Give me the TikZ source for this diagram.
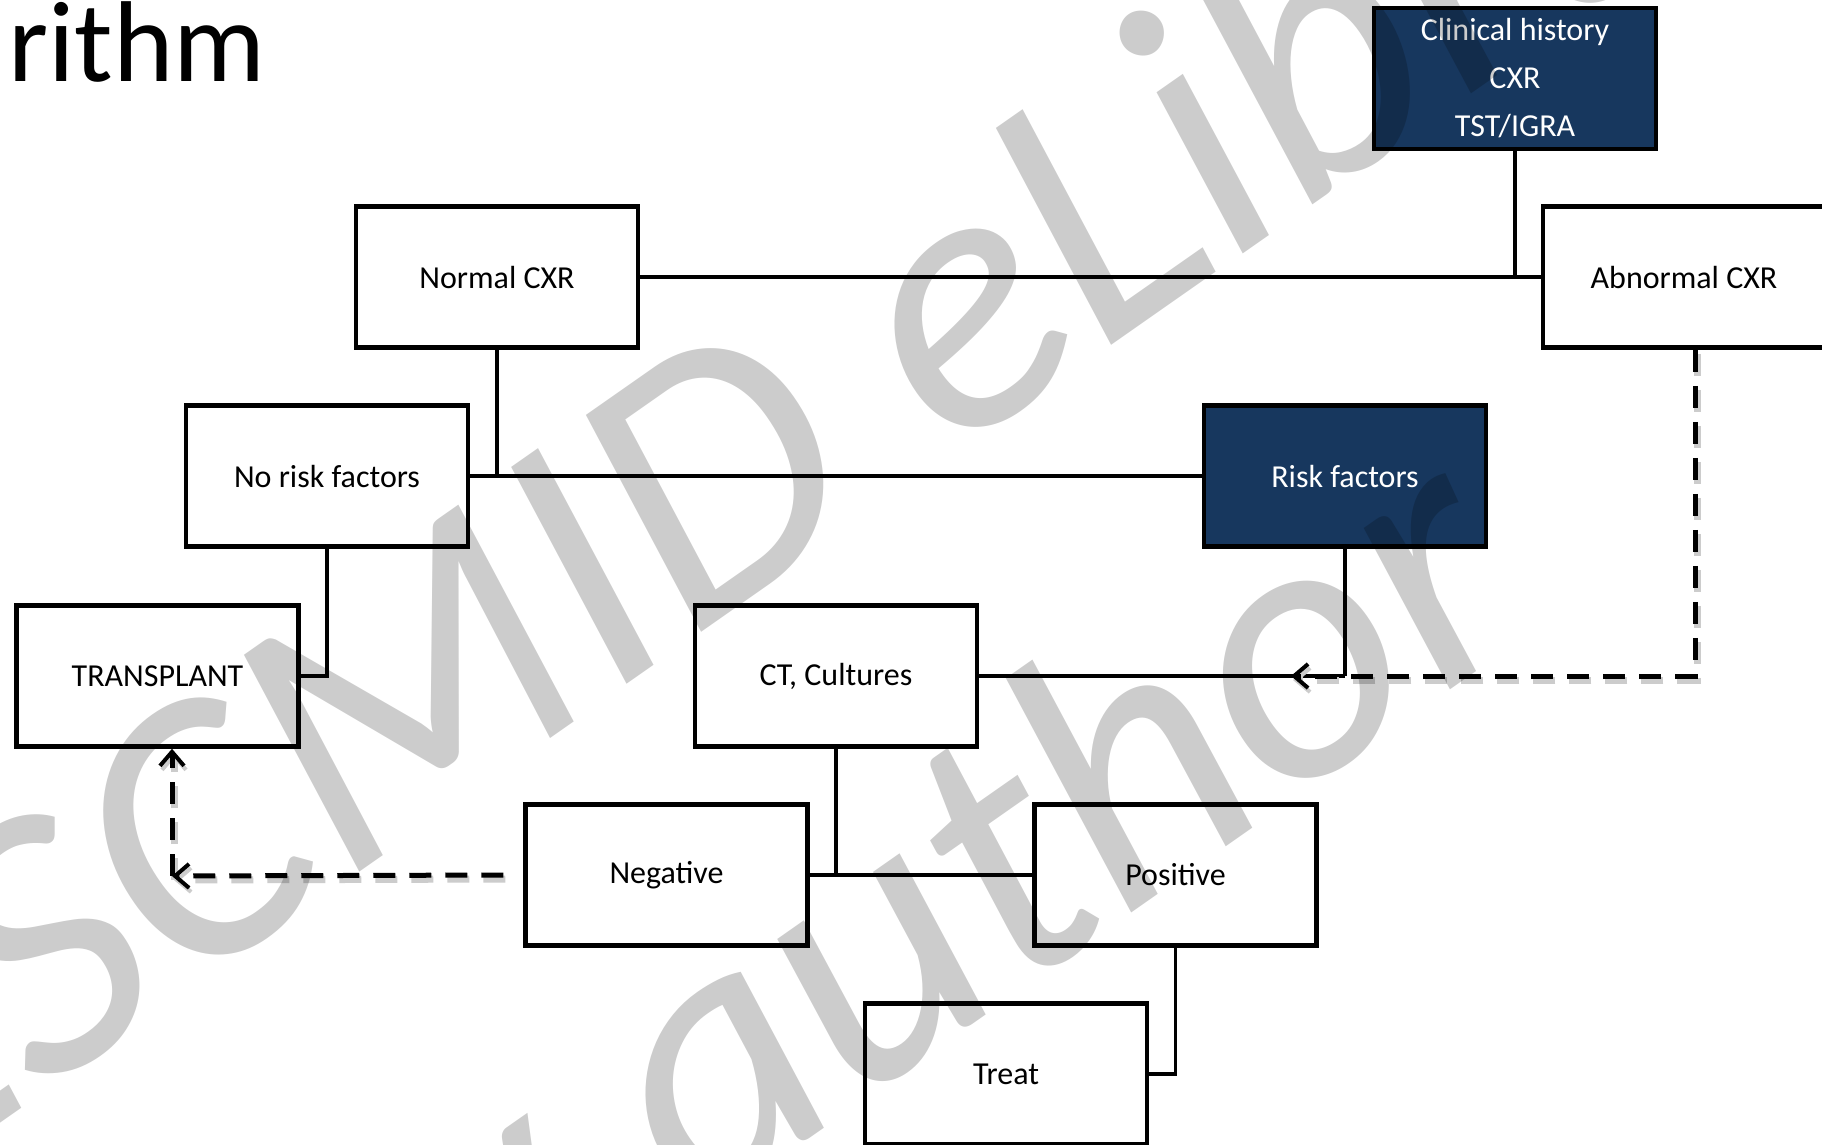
\documentclass[tikz,border=0pt]{standalone}
\usepackage{fontspec}
\setmainfont{Carlito}
\usetikzlibrary{arrows.meta}
\definecolor{navy}{RGB}{23,55,94}
\newcommand\mydashpaths[1]{%
  \draw[dashconn,#1] ([xshift=11pt]abn.south) |- (tip1);
  \draw[dashconn,#1] ([xshift=-20pt]neg.west) -- (corner);
  \draw[dashconn,#1] (corner) -- ([xshift=14.5pt]tx.south);
}
\begin{document}
\begin{tikzpicture}[x=1pt,y=-1pt,
  box/.style={draw=black, line width=4.5pt, fill=white, minimum width=282pt, minimum height=141pt,
    inner sep=0pt, font=\fontsize{32}{48}\selectfont, align=center, text=black},
  darkbox/.style={box, fill=navy, text=white},
  conn/.style={line width=3.5pt, line join=miter},
  dashconn/.style={line width=5pt, dash pattern=on 22pt off 14pt,
    -{Straight Barb[length=14pt,width=24pt,line width=4pt]}},
  wmark/.style={rotate=35, anchor=base west, inner sep=0pt, text=black, text opacity=0.2,
    font=\fontsize{380}{460}\selectfont\itshape}
]
\useasboundingbox (0,0) rectangle (1822,1144);
\clip (0,0) rectangle (1822,1144);
\fill[white] (0,0) rectangle (1822,1144);

\node[anchor=base west, inner sep=0pt, font=\fontsize{115}{130}\selectfont] (title) at (8,81) {rithm};

\node[box] (normal) at (497,277) {Normal CXR};
\node[darkbox] (clin) at (1515,78.5) {Clinical history\\CXR\\TST/IGRA};
\node[box] (abn) at (1684,277) {Abnormal CXR};
\node[box] (norisk) at (327,476) {No risk factors};
\node[darkbox] (risk) at (1345,476) {Risk factors};
\node[box] (tx) at (157.5,676) {TRANSPLANT};
\node[box] (ct) at (836,676) {CT, Cultures};
\node[box] (neg) at (666.5,875) {Negative};
\node[box] (pos) at (1175.5,875) {Positive};
\node[box] (treat) at (1006,1074) {Treat};

\draw[conn] (clin.south) -- (clin.south |- normal.east);
\draw[conn] (normal.east) -- (abn.west);
\draw[conn] (normal.south) -- (normal.south |- norisk.east);
\draw[conn] (norisk.east) -- (risk.west);
\draw[conn] (norisk.south) |- (tx.east);
\draw[conn] (risk.south) -- (risk.south |- ct.east);
\draw[conn] (ct.east) -- (risk.south |- ct.east);
\draw[conn] (ct.south) -- (ct.south |- neg.east);
\draw[conn] (neg.east) -- (pos.west);
\draw[conn] (pos.south) |- (treat.east);

\coordinate (tip1) at (1291,676);
\coordinate (corner) at (172,876);
\begin{scope}[transform canvas={shift={(2pt,-4pt)}}]
  \mydashpaths{draw=black!20, line width=7pt}
\end{scope}
\mydashpaths{}

\node[wmark] (wm1) at (-109,1200) {ESCMID eLibrary};
\node[wmark] (wm2) at (-3,1707) {© by author};
\end{tikzpicture}
\end{document}
